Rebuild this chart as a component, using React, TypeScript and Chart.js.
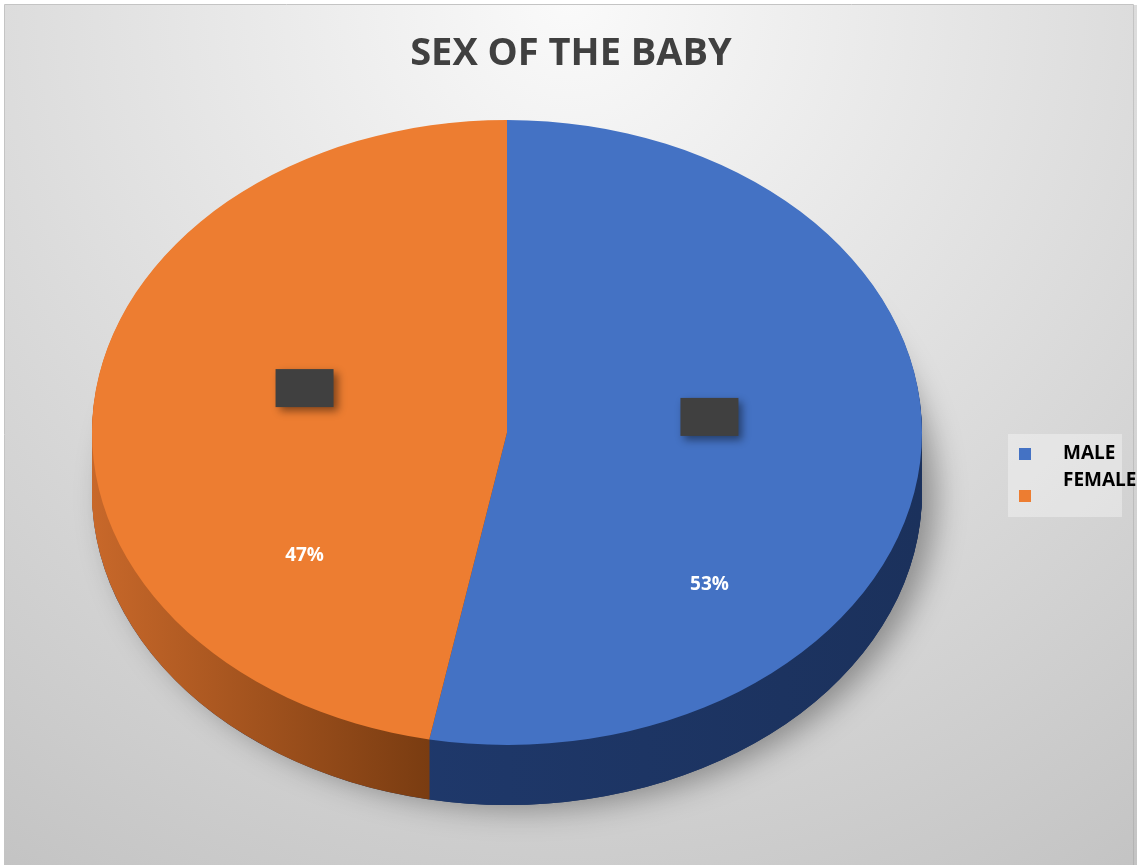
import React, { useEffect, useRef } from "react";
import { Chart, registerables } from "chart.js";

Chart.register(...registerables);

// ---- data ----
const chartTitle = "SEX OF THE BABY";
const categories = ["MALE", "FEMALE"];
const values = [53, 47];
const topColors = ["#4472C4", "#ED7D31"];
const sideColorsA = ["#213d74", "#c8682a"];
const sideColorsB = ["#1b315c", "#763a10"];

// ---- style constants ----
const DEPTH = 60;
const FONT = "'Open Sans', 'DejaVu Sans', sans-serif";

function sliceGeom(chart: any) {
  const meta = chart.getDatasetMeta(0);
  const area = chart.chartArea;
  const first: any = meta.data[0];
  const R = first.outerRadius;
  const cx = (area.left + area.right) / 2;
  const cy = (area.top + area.bottom) / 2;
  const sx = (area.right - area.left) / 2 / R;
  const sy = (area.bottom - area.top) / 2 / R;
  return { meta, R, cx, cy, sx, sy, ax: first.x, ay: first.y };
}

const pie3d = {
  id: "pie3d",
  beforeDraw(chart: any) {
    const { ctx, width, height } = chart;
    ctx.save();
    ctx.fillStyle = "#ffffff";
    ctx.fillRect(0, 0, width, height);
    const g = ctx.createRadialGradient(570, 0, 0, 570, 0, 1100);
    g.addColorStop(0, "#fafafa");
    g.addColorStop(1, "#c0c0c0");
    ctx.fillStyle = g;
    ctx.fillRect(5, 5, width - 5, height - 5);
    ctx.strokeStyle = "#c4c4c4";
    ctx.lineWidth = 1;
    ctx.beginPath();
    ctx.moveTo(4.5, height);
    ctx.lineTo(4.5, 4.5);
    ctx.lineTo(width - 3.5, 4.5);
    ctx.stroke();
    ctx.strokeStyle = "rgba(150,150,150,0.35)";
    ctx.beginPath();
    ctx.moveTo(width - 3.5, 4.5);
    ctx.lineTo(width - 3.5, height);
    ctx.stroke();
    // title
    ctx.fillStyle = "#404040";
    ctx.font = `bold 38px ${FONT}`;
    ctx.textAlign = "center";
    ctx.textBaseline = "middle";
    ctx.fillText(chartTitle, 571, 54);
    ctx.restore();
  },
  beforeDatasetsDraw(chart: any) {
    const ctx = chart.ctx;
    const { meta, R, cx, cy, sx, sy, ax, ay } = sliceGeom(chart);
    const apply = (dy: number) => {
      ctx.translate(cx, cy + dy);
      ctx.scale(sx, sy);
      ctx.translate(-ax, -ay);
    };
    // soft shadow under the pie
    ctx.save();
    apply(DEPTH);
    ctx.shadowColor = "rgba(0,0,0,0.35)";
    ctx.shadowBlur = 30;
    ctx.shadowOffsetX = 14;
    ctx.shadowOffsetY = 4;
    ctx.fillStyle = "#1b315c";
    ctx.beginPath();
    ctx.arc(ax, ay, R, 0, Math.PI * 2);
    ctx.fill();
    ctx.restore();
    // side walls
    for (let d = DEPTH; d >= 1; d--) {
      meta.data.forEach((arc: any, i: number) => {
        ctx.save();
        apply(d);
        const grad = ctx.createLinearGradient(ax - R, 0, i === 1 ? ax - 0.15 * R : ax + R, 0);
        grad.addColorStop(0, sideColorsA[i]);
        grad.addColorStop(1, sideColorsB[i]);
        ctx.fillStyle = grad;
        ctx.beginPath();
        ctx.moveTo(arc.x, arc.y);
        ctx.arc(arc.x, arc.y, R, arc.startAngle, arc.endAngle);
        ctx.closePath();
        ctx.fill();
        ctx.restore();
      });
    }
    ctx.save();
    apply(0);
  },
  afterDatasetsDraw(chart: any) {
    const ctx = chart.ctx;
    ctx.restore();
    const { meta, R, cx, cy, sx, sy } = sliceGeom(chart);
    const data = chart.data.datasets[0].data as number[];
    const total = data.reduce((a, b) => a + b, 0);
    meta.data.forEach((arc: any, i: number) => {
      const mid = (arc.startAngle + arc.endAngle) / 2;
      const px = cx + 0.49 * R * sx * Math.cos(mid);
      const py = cy + 0.49 * R * sy * Math.sin(mid);
      // category label box (dark)
      ctx.save();
      ctx.shadowColor = "rgba(0,0,0,0.45)";
      ctx.shadowBlur = 8;
      ctx.shadowOffsetX = 4;
      ctx.shadowOffsetY = 4;
      ctx.fillStyle = "#404040";
      ctx.fillRect(px - 29, py - 30 - 19, 58, 38);
      ctx.restore();
      // percent label
      ctx.save();
      ctx.fillStyle = "#ffffff";
      ctx.font = `bold 19px ${FONT}`;
      ctx.textAlign = "center";
      ctx.textBaseline = "middle";
      ctx.fillText(Math.round((data[i] / total) * 100) + "%", px, py + 138);
      ctx.restore();
    });
  },
  afterDraw(chart: any) {
    const ctx = chart.ctx;
    const colors = chart.data.datasets[0].backgroundColor as string[];
    const labels = chart.data.labels as string[];
    ctx.save();
    ctx.fillStyle = "rgba(255,255,255,0.35)";
    ctx.fillRect(1008, 434, 114, 83);
    labels.forEach((lab, i) => {
      ctx.fillStyle = colors[i];
      ctx.fillRect(1019, 448 + i * 42, 12, 12);
      ctx.fillStyle = "#000000";
      ctx.font = `bold 19px ${FONT}`;
      ctx.textAlign = "left";
      ctx.textBaseline = "alphabetic";
      ctx.fillText(lab, 1063, 459 + i * 27);
    });
    ctx.restore();
  },
};

export default function App() {
  const ref = useRef<HTMLCanvasElement>(null);
  useEffect(() => {
    document.body.style.margin = "0";
    const chart = new Chart(ref.current as HTMLCanvasElement, {
      type: "pie",
      data: {
        labels: categories,
        datasets: [
          {
            data: values,
            backgroundColor: topColors,
            borderWidth: 0,
            clip: false as any,
          },
        ],
      },
      options: {
        responsive: false,
        animation: false,
        rotation: 0,
        layout: { padding: { left: 92, right: 215, top: 120, bottom: 120 } },
        plugins: {
          legend: { display: false },
          tooltip: { enabled: false },
          title: { display: false },
        },
      },
      plugins: [pie3d as any],
    });
    return () => chart.destroy();
  }, []);
  return (
    <div style={{ width: 1137, height: 865 }}>
      <canvas ref={ref} width={1137} height={865} style={{ display: "block" }} />
    </div>
  );
}
